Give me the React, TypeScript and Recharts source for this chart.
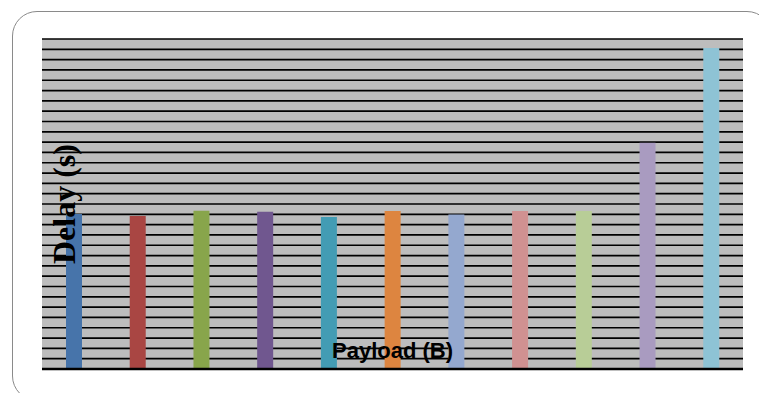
import React from 'react';
import { BarChart, Bar, XAxis, YAxis, CartesianGrid, Cell, Label } from 'recharts';

// Payload sizes along the x axis (tick labels are not drawn)
const payloads = ['1', '2', '3', '4', '5', '6', '7', '8', '9', '10', '11'];
// Measured delay for each payload size
const delays = [15.03, 14.84, 15.35, 15.26, 14.74, 15.32, 14.97, 15.32, 15.32, 21.95, 31.13];
// One fill per bar
const barColors = [
  '#4774aa', '#a94643', '#88a54b', '#70578f', '#439cb4', '#dd8540',
  '#94a8cf', '#d09191', '#b8cd97', '#a99bc0', '#8ec3d5',
];
// Horizontal grid positions on the delay axis
const delayTicks = Array.from({ length: 33 }, (_, i) => i);

const data = payloads.map((p, i) => ({ payload: p, delay: delays[i] }));

const NoTick = () => <g />;

export default function App() {
  return (
    <div
      style={{
        position: 'fixed',
        left: 0,
        top: 0,
        width: 759,
        height: 393,
        overflow: 'hidden',
        background: '#ffffff',
      }}
    >
      <div
        style={{
          position: 'absolute',
          left: 12,
          top: 11,
          width: 760,
          height: 390,
          border: '1.5px solid #8a8a8a',
          borderRadius: 25,
          boxSizing: 'border-box',
        }}
      />
      <div style={{ position: 'absolute', left: 0, top: 0 }}>
        <BarChart
          width={759}
          height={393}
          data={data}
          margin={{ top: 39, right: 16, bottom: 23, left: 41 }}
        >
          <CartesianGrid
            vertical={false}
            fill="#bdbdbd"
            fillOpacity={1}
            stroke="#000000"
            strokeWidth={1.7}
          />
          <Bar dataKey="delay" barSize={16} isAnimationActive={false}>
            {data.map((d, i) => (
              <Cell key={d.payload} fill={barColors[i]} />
            ))}
          </Bar>
          <XAxis
            dataKey="payload"
            height={1}
            tick={NoTick}
            axisLine={{ stroke: '#000000', strokeWidth: 2.4 }}
            tickLine={false}
          >
            <Label
              value="Payload (B)"
              position="center"
              dy={-19}
              fill="#000000"
              fontFamily='"Liberation Sans", Arial, sans-serif'
              fontWeight="bold"
              fontSize={22}
            />
          </XAxis>
          <YAxis
            width={1}
            domain={[0, 32]}
            ticks={delayTicks}
            interval={0}
            tick={NoTick}
            axisLine={false}
            tickLine={false}
          >
            <Label
              value="Delay (s)"
              position="center"
              angle={-90}
              dx={22}
              fill="#000000"
              fontFamily='"Liberation Serif", "Times New Roman", serif'
              fontWeight="bold"
              fontSize={32}
            />
          </YAxis>
        </BarChart>
      </div>
    </div>
  );
}
